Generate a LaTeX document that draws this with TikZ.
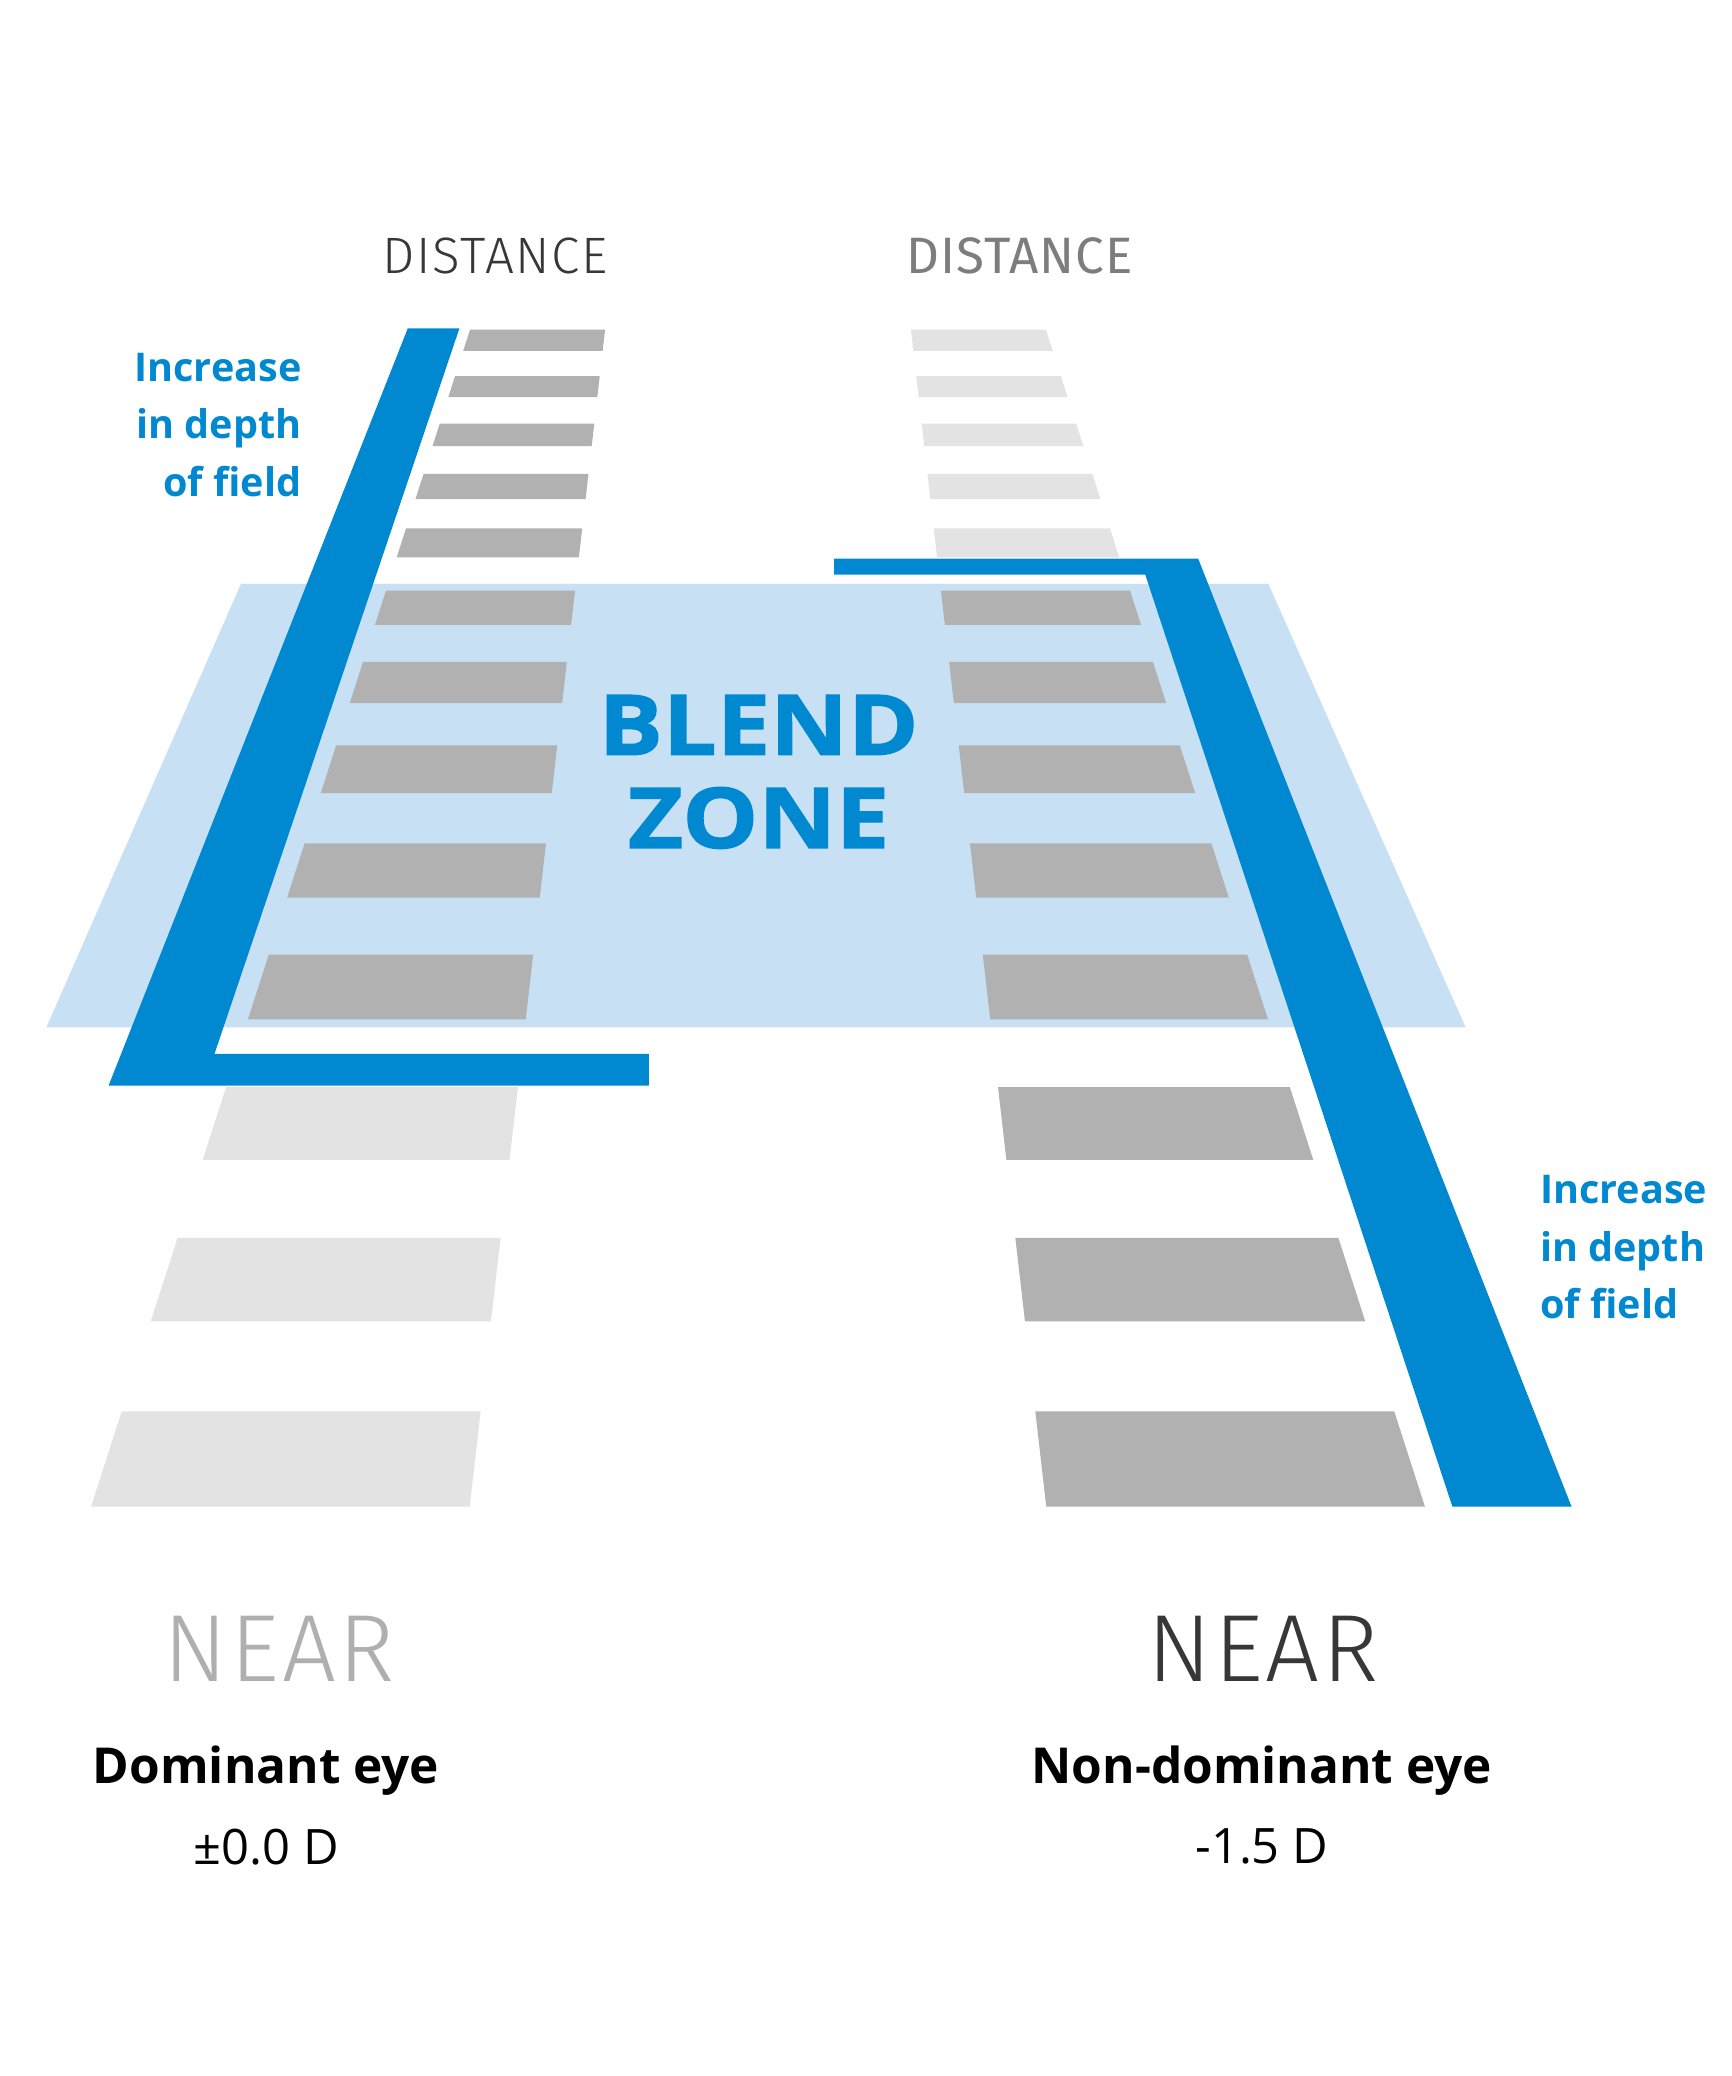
\documentclass[tikz,border=0pt]{standalone}
\usepackage{fontspec}
\setmainfont{Open Sans}
\IfFontExistsTF{Fira Sans Light}
    {\newfontfamily\thinsans{Fira Sans Light}[LetterSpace=3]}
    {\IfFontExistsTF{Open Sans Light}
        {\newfontfamily\thinsans{Open Sans Light}}
        {\newfontfamily\thinsans{Fira Sans}}}
\newfontfamily\midsans{Fira Sans}[LetterSpace=2]
\IfFontExistsTF{Open Sans ExtraBold}
    {\newfontfamily\heavysans{Open Sans ExtraBold}[FakeStretch=1.14]}
    {\newfontfamily\heavysans{Open Sans}[UprightFont={* Bold}, UprightFeatures={FakeBold=1.5}, FakeStretch=1.14]}
\usepackage{xcolor}
\usepackage{tikz}
\usetikzlibrary{positioning}

\definecolor{dofblue}{RGB}{0,137,208}
\definecolor{zoneblue}{RGB}{199,224,244}
\definecolor{bargray}{RGB}{177,177,177}
\definecolor{barpale}{RGB}{227,227,227}
\definecolor{inkgray}{RGB}{55,55,55}
\definecolor{hazegray}{RGB}{125,125,125}
\definecolor{palegray}{RGB}{175,175,175}

\begin{document}
\begin{tikzpicture}[
    x=0.02cm, y=-0.02cm,
    zone/.style={fill=zoneblue},
    focusbar/.style={fill=bargray},
    blurbar/.style={fill=barpale},
    dof/.style={fill=dofblue},
    sharptext/.style={inner sep=0pt, text=inkgray, font=\thinsans\fontsize{22}{26}\selectfont},
    softtext/.style={inner sep=0pt, text=hazegray, font=\midsans\fontsize{22}{26}\selectfont},
    bignear/.style={inner sep=0pt, font=\thinsans\fontsize{41}{48}\selectfont},
    doflabel/.style={inner sep=0pt, text=dofblue, font=\bfseries\fontsize{17}{24.8}\selectfont},
    blendlabel/.style={inner sep=0pt, text=dofblue, align=center, font=\heavysans\fontsize{36}{40}\selectfont},
    eyelabel/.style={inner sep=0pt, font=\bfseries\fontsize{21.3}{26}\selectfont},
    powerlabel/.style={inner sep=0pt, font=\fontsize{21}{25}\selectfont}
]
    \useasboundingbox (0,0) rectangle (1308,1568);

    % blend zone plane
    \fill[zone] (182,441) -- (958,441) -- (1107,776) -- (35,776) -- cycle;

    % rungs: left column (dominant) and its mirror (non-dominant)
    \foreach \t/\b/\ls/\rs in {
        249/265/focusbar/blurbar, 284/300/focusbar/blurbar, 320/337/focusbar/blurbar,
        358/377/focusbar/blurbar, 399/421/focusbar/blurbar, 446/472/focusbar/focusbar,
        500/531/focusbar/focusbar, 563/599/focusbar/focusbar, 637/678/focusbar/focusbar,
        721/770/focusbar/focusbar, 821/876/blurbar/focusbar, 935/998/blurbar/focusbar,
        1066/1138/blurbar/focusbar}
    {
        \fill[\ls] ({355-0.322*(\t-249)},\t) -- ({457-0.115*(\t-249)},\t)
            -- ({457-0.115*(\b-249)},\b) -- ({355-0.322*(\b-249)},\b) -- cycle;
        \fill[\rs] ({688+0.115*(\t-249)},\t) -- ({790+0.322*(\t-249)},\t)
            -- ({790+0.322*(\b-249)},\b) -- ({688+0.115*(\b-249)},\b) -- cycle;
    }

    % depth of field brackets
    \fill[dof] (308,248) -- (347,248) -- (162,796) -- (490,796) -- (490,820) -- (82,820) -- cycle;
    \fill[dof] (630,422) -- (905,422) -- (1187,1138) -- (1097,1138) -- (865,434) -- (630,434) -- cycle;

    % top and bottom words
    \node[sharptext] (distL) at (374,193) {DISTANCE};
    \node[softtext] (distR) at (770,193) {DISTANCE};
    \node[bignear, text=palegray] (nearL) at (211,1245) {NEAR};
    \node[bignear, text=inkgray] (nearR) at (954,1245) {NEAR};

    % labels
    \node[doflabel, align=right, anchor=east] (dofL) at (228,321) {Increase\\in depth\\of field};
    \node[doflabel, align=left, anchor=west] (dofR) at (1163,942) {Increase\\in depth\\of field};
    \node[blendlabel] (blend) at (573,583) {BLEND\\ZONE};

    % eye captions
    \node[eyelabel] (eyeL) at (201,1337) {Dominant eye};
    \node[powerlabel, below=0.50cm of eyeL] (powL) {±0.0 D};
    \node[eyelabel] (eyeR) at (953,1337) {Non-dominant eye};
    \node[powerlabel, below=0.50cm of eyeR] (powR) {-1.5 D};
\end{tikzpicture}
\end{document}
